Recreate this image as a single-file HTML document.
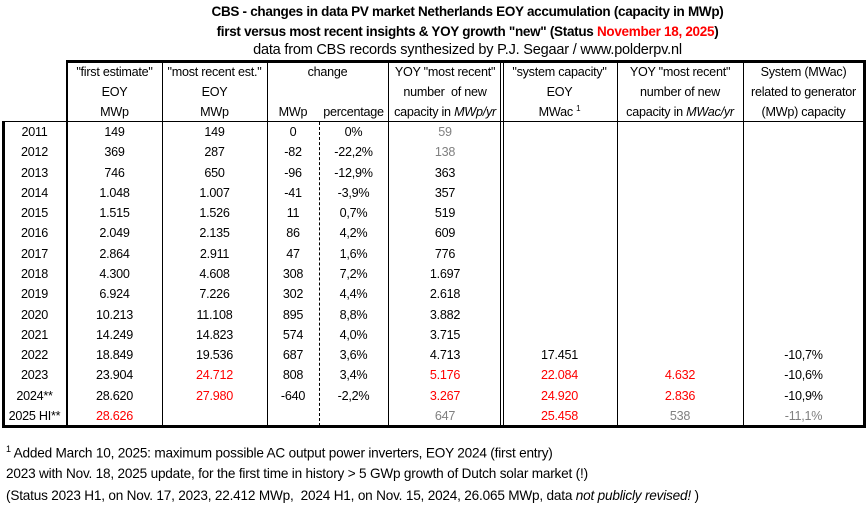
<!DOCTYPE html>
<html><head><meta charset="utf-8"><style>
*{margin:0;padding:0;box-sizing:border-box}
body{width:867px;height:510px;background:#fff;position:relative;overflow:hidden;font-family:"Liberation Sans",sans-serif;color:#000}
.t{position:absolute;left:34px;width:867px;text-align:center;white-space:nowrap}
.l{position:absolute background:#000}
.l{position:absolute;background:#000}
table{position:absolute;left:2px;top:62px;border-collapse:collapse;table-layout:fixed;font-size:12.6px;letter-spacing:-0.25px}
td{text-align:center;white-space:nowrap;padding:0;overflow:visible}
tr.h td{height:20px}
tr.d td{height:20.27px}
.r{color:#f00}.g{color:#808080}
.f{position:absolute;left:6px;font-size:13.6px;letter-spacing:-0.2px;white-space:nowrap}
</style></head><body>
<div class="t" style="top:4px;font-size:13.5px;font-weight:bold;letter-spacing:-0.3px">CBS - changes in data PV market Netherlands EOY accumulation (capacity in MWp)</div>
<div class="t" style="top:24px;font-size:13.5px;font-weight:bold;letter-spacing:-0.3px">first versus most recent insights &amp; YOY growth "new" (Status <span style="color:#f00">November 18, 2025</span>)</div>
<div class="t" style="top:42px;font-size:14.5px;letter-spacing:-0.2px">data from CBS records synthesized by P.J. Segaar / www.polderpv.nl</div>

<div class="l" style="left:66px;top:60px;width:800px;height:3px"></div>
<div class="l" style="left:2px;top:121px;width:864px;height:1px"></div>
<div class="l" style="left:2px;top:121px;width:3px;height:307px"></div>
<div class="l" style="left:863px;top:60px;width:3px;height:368px"></div>
<div class="l" style="left:2px;top:425px;width:864px;height:3px"></div>
<div class="l" style="left:66px;top:60px;width:2px;height:367px"></div>
<div class="l" style="left:162px;top:62px;width:1px;height:364px"></div>
<div class="l" style="left:267px;top:62px;width:1px;height:364px"></div>
<div class="l" style="left:388px;top:62px;width:1px;height:364px"></div>
<div class="l" style="left:500px;top:62px;width:1px;height:364px"></div>
<div class="l" style="left:503px;top:62px;width:1px;height:364px"></div>
<div class="l" style="left:617px;top:62px;width:1px;height:364px"></div>
<div class="l" style="left:743px;top:62px;width:1px;height:364px"></div>
<div style="position:absolute;left:319px;top:122px;height:304px;border-left:1px dashed #000"></div>

<table>
<colgroup><col style="width:65px"><col style="width:95px"><col style="width:105px"><col style="width:52px"><col style="width:69px"><col style="width:114px"><col style="width:115px"><col style="width:126px"><col style="width:121px"></colgroup>
<tr class="h"><td></td><td>"first estimate"</td><td>"most recent est."</td><td colspan="2">change</td><td>YOY "most recent"</td><td>"system capacity"</td><td>YOY "most recent"</td><td>System (MWac)</td></tr>
<tr class="h"><td></td><td>EOY</td><td>EOY</td><td></td><td></td><td>number&nbsp; of new</td><td>EOY</td><td>number of new</td><td>related to generator</td></tr>
<tr class="h"><td></td><td>MWp</td><td>MWp</td><td>MWp</td><td>percentage</td><td>capacity in <i>MWp/yr</i></td><td>MWac <sup style="font-size:8px">1</sup></td><td>capacity in <i>MWac/yr</i></td><td>(MWp) capacity</td></tr>
<tr class="d"><td>2011</td><td>149</td><td>149</td><td>0</td><td>0%</td><td class="g">59</td><td></td><td></td><td></td></tr>
<tr class="d"><td>2012</td><td>369</td><td>287</td><td>-82</td><td>-22,2%</td><td class="g">138</td><td></td><td></td><td></td></tr>
<tr class="d"><td>2013</td><td>746</td><td>650</td><td>-96</td><td>-12,9%</td><td>363</td><td></td><td></td><td></td></tr>
<tr class="d"><td>2014</td><td>1.048</td><td>1.007</td><td>-41</td><td>-3,9%</td><td>357</td><td></td><td></td><td></td></tr>
<tr class="d"><td>2015</td><td>1.515</td><td>1.526</td><td>11</td><td>0,7%</td><td>519</td><td></td><td></td><td></td></tr>
<tr class="d"><td>2016</td><td>2.049</td><td>2.135</td><td>86</td><td>4,2%</td><td>609</td><td></td><td></td><td></td></tr>
<tr class="d"><td>2017</td><td>2.864</td><td>2.911</td><td>47</td><td>1,6%</td><td>776</td><td></td><td></td><td></td></tr>
<tr class="d"><td>2018</td><td>4.300</td><td>4.608</td><td>308</td><td>7,2%</td><td>1.697</td><td></td><td></td><td></td></tr>
<tr class="d"><td>2019</td><td>6.924</td><td>7.226</td><td>302</td><td>4,4%</td><td>2.618</td><td></td><td></td><td></td></tr>
<tr class="d"><td>2020</td><td>10.213</td><td>11.108</td><td>895</td><td>8,8%</td><td>3.882</td><td></td><td></td><td></td></tr>
<tr class="d"><td>2021</td><td>14.249</td><td>14.823</td><td>574</td><td>4,0%</td><td>3.715</td><td></td><td></td><td></td></tr>
<tr class="d"><td>2022</td><td>18.849</td><td>19.536</td><td>687</td><td>3,6%</td><td>4.713</td><td>17.451</td><td></td><td>-10,7%</td></tr>
<tr class="d"><td>2023</td><td>23.904</td><td class="r">24.712</td><td>808</td><td>3,4%</td><td class="r">5.176</td><td class="r">22.084</td><td class="r">4.632</td><td>-10,6%</td></tr>
<tr class="d"><td>2024**</td><td>28.620</td><td class="r">27.980</td><td>-640</td><td>-2,2%</td><td class="r">3.267</td><td class="r">24.920</td><td class="r">2.836</td><td>-10,9%</td></tr>
<tr class="d"><td>2025 HI**</td><td class="r">28.626</td><td></td><td></td><td></td><td class="g">647</td><td class="r">25.458</td><td class="g">538</td><td class="g">-11,1%</td></tr>
</table>

<div class="f" style="top:444px"><sup style="font-size:9px">1</sup> Added March 10, 2025: maximum possible AC output power inverters, EOY 2024 (first entry)</div>
<div class="f" style="top:466px">2023 with Nov. 18, 2025 update, for the first time in history &gt; 5 GWp growth of Dutch solar market (!)</div>
<div class="f" style="top:488px">(Status 2023 H1, on Nov. 17, 2023, 22.412 MWp,&nbsp; 2024 H1, on Nov. 15, 2024, 26.065 MWp, data <i>not publicly revised!</i> )</div>
</body></html>
